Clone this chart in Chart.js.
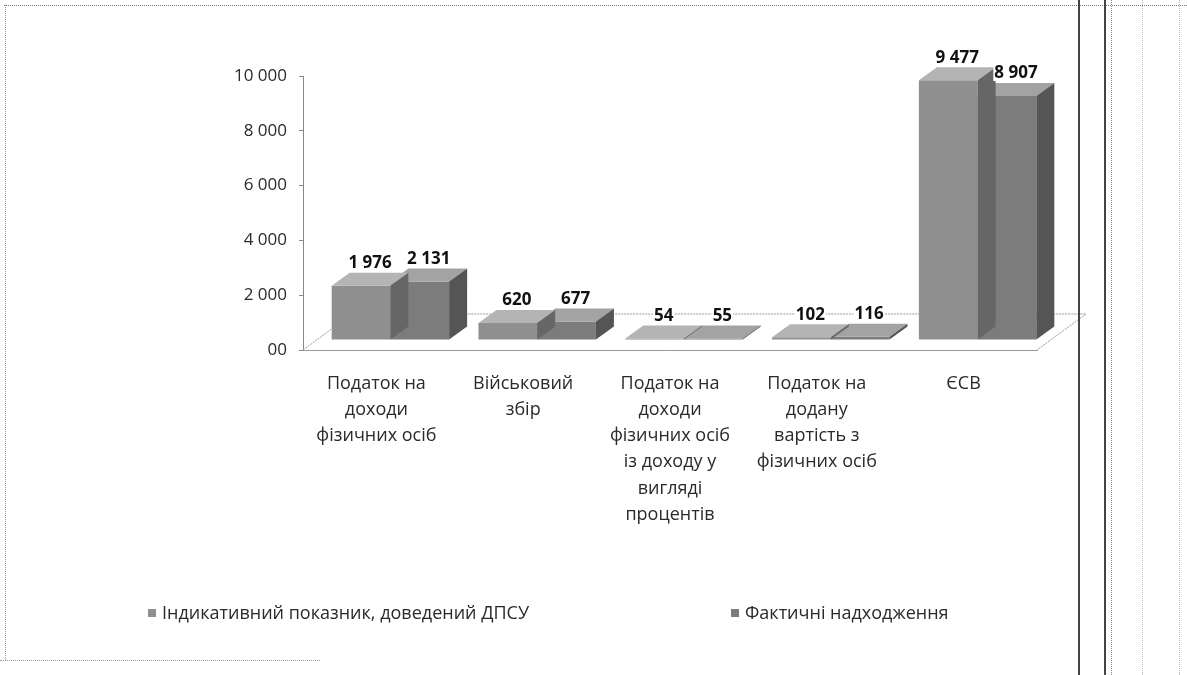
<!DOCTYPE html>
<html lang="uk">
<head>
<meta charset="utf-8">
<script src="https://cdn.jsdelivr.net/npm/chart.js@4.4.1/dist/chart.umd.min.js"></script>
<style>
html, body { margin: 0; padding: 0; background: #fff; }
#wrap { position: relative; width: 1187px; height: 675px; overflow: hidden; font-family: "Open Sans", sans-serif; }
#wrap canvas { position: absolute; left: 0; top: 0; }
.ln { position: absolute; }
.item { position: absolute; top: 600px; font-size: 18px; color: #2a2a2a; white-space: nowrap; }
.item i { display: inline-block; width: 8px; height: 8px; margin-right: 6px; vertical-align: 2px; }
</style>
</head>
<body>
<div id="wrap">
  <canvas id="taxChart" width="1187" height="675"></canvas>
  <div id="legend"></div>
  <!-- page frame from the scan -->
  <div class="ln" style="left:4px;top:5px;width:1183px;border-top:1px dotted #777;"></div>
  <div class="ln" style="left:5px;top:5px;height:655px;border-left:1px dotted #999;"></div>
  <div class="ln" style="left:0;top:660px;width:320px;border-top:1px dotted #999;"></div>
  <div class="ln" style="left:1078px;top:0;height:675px;border-left:2px solid #444;"></div>
  <div class="ln" style="left:1104px;top:0;height:675px;border-left:2px solid #444;"></div>
  <div class="ln" style="left:1111px;top:0;height:675px;border-left:1px dotted #888;"></div>
  <div class="ln" style="left:1142px;top:0;height:675px;border-left:1px dotted #bbb;"></div>
  <div class="ln" style="left:1179px;top:0;height:675px;border-left:1px dotted #bbb;"></div>
</div>
<script>
const categories = [
    ['Податок на', 'доходи', 'фізичних осіб'],
    ['Військовий', 'збір'],
    ['Податок на', 'доходи', 'фізичних осіб', 'із доходу у', 'вигляді', 'процентів'],
    ['Податок на', 'додану', 'вартість з', 'фізичних осіб'],
    ['ЄСВ']
];
const seriesNames = ['Індикативний показник, доведений ДПСУ', 'Фактичні надходження'];
const indicative = [1976, 620, 54, 102, 9477];
const actual = [2131, 677, 55, 116, 8907];
const yTickLabels = ['00', '2 000', '4 000', '6 000', '8 000', '10 000'];

// 3D look: depth of each bar and shift of bars into the floor
const DX = 18, DY = -13;
const SHIFT_X = 14, SHIFT_Y = -10;
const shades = [
    { front: '#8f8f8f', top: '#b4b4b4', side: '#666666' },
    { front: '#7c7c7c', top: '#a3a3a3', side: '#555555' }
];

function fmt(v) {
    return String(v).replace(/\B(?=(\d{3})+(?!\d))/g, ' ');
}

const box3d = {
    id: 'box3d',
    beforeDatasetsDraw(chart) {
        const { ctx, chartArea: a } = chart;
        ctx.save();
        ctx.strokeStyle = '#999';
        ctx.lineWidth = 1;
        ctx.setLineDash([2, 1]);
        ctx.beginPath();
        ctx.moveTo(a.left, a.bottom);
        ctx.lineTo(a.left + 49, a.bottom - 36);
        ctx.lineTo(a.right + 49, a.bottom - 36);
        ctx.lineTo(a.right, a.bottom);
        ctx.stroke();
        ctx.restore();
    },
    beforeDatasetDraw(chart) {
        chart.ctx.save();
        chart.ctx.translate(SHIFT_X, SHIFT_Y);
    },
    afterDatasetDraw(chart, args) {
        const ctx = chart.ctx;
        const s = shades[args.index];
        args.meta.data.forEach(el => {
            const l = el.x - el.width / 2, r = el.x + el.width / 2, t = el.y, b = el.base;
            ctx.fillStyle = s.top;
            ctx.beginPath();
            ctx.moveTo(l, t); ctx.lineTo(l + DX, t + DY); ctx.lineTo(r + DX, t + DY); ctx.lineTo(r, t);
            ctx.closePath(); ctx.fill();
            ctx.fillStyle = s.side;
            ctx.beginPath();
            ctx.moveTo(r, t); ctx.lineTo(r + DX, t + DY); ctx.lineTo(r + DX, b + DY); ctx.lineTo(r, b);
            ctx.closePath(); ctx.fill();
        });
        ctx.restore();
    },
    afterDatasetsDraw(chart) {
        const ctx = chart.ctx;
        ctx.save();
        ctx.font = 'bold 17px "Open Sans", sans-serif';
        ctx.textAlign = 'center';
        ctx.textBaseline = 'bottom';
        chart.data.datasets.forEach((ds, i) => {
            chart.getDatasetMeta(i).data.forEach((el, j) => {
                const x = el.x + SHIFT_X + DX / 2;
                const y = el.y + SHIFT_Y + DY - 1;
                const txt = fmt(ds.data[j]);
                const w = ctx.measureText(txt).width;
                ctx.fillStyle = '#fff';
                ctx.fillRect(x - w / 2 - 1, y - 18, w + 2, 17);
                ctx.fillStyle = '#111';
                ctx.fillText(txt, x, y);
            });
        });
        ctx.restore();
    }
};

const taxCtx = document.getElementById('taxChart').getContext('2d');
const taxChart = new Chart(taxCtx, {
    type: 'bar',
    data: {
        labels: categories,
        datasets: [
            {
                label: seriesNames[0],
                data: indicative,
                backgroundColor: shades[0].front,
                categoryPercentage: 0.8,
                barPercentage: 1.0,
                clip: false
            },
            {
                label: seriesNames[1],
                data: actual,
                backgroundColor: shades[1].front,
                categoryPercentage: 0.8,
                barPercentage: 1.0,
                clip: false
            }
        ]
    },
    options: {
        responsive: false,
        animation: false,
        layout: { padding: { top: 76, right: 150, bottom: 0, left: 0 } },
        scales: {
            x: {
                grid: { display: false, drawTicks: false },
                border: { display: true, color: '#999' },
                ticks: {
                    color: '#2a2a2a',
                    padding: 21,
                    maxRotation: 0,
                    autoSkip: false,
                    font: { family: '"Open Sans", sans-serif', size: 18, lineHeight: 1.45 }
                },
                afterFit(scale) { scale.height = 325; }
            },
            y: {
                min: 0,
                max: 10000,
                grid: { drawOnChartArea: false, drawTicks: true, tickLength: 4, color: '#888' },
                border: { display: true, color: '#888' },
                ticks: {
                    stepSize: 2000,
                    color: '#2a2a2a',
                    padding: 12,
                    font: { family: '"Open Sans", sans-serif', size: 17 },
                    callback: (v, i) => yTickLabels[i]
                },
                afterFit(scale) { scale.width = 303; }
            }
        },
        plugins: {
            legend: { display: false },
            tooltip: { enabled: false }
        }
    },
    plugins: [box3d]
});

// legend kept as html so the two entries can sit far apart like in the scan
const legendLeft = [148, 731];
const legendEl = document.getElementById('legend');
seriesNames.forEach((name, i) => {
    const item = document.createElement('div');
    item.className = 'item';
    item.style.left = legendLeft[i] + 'px';
    item.innerHTML = '<i style="background:' + shades[i].front + '"></i>' + name;
    legendEl.appendChild(item);
});
</script>
</body>
</html>
